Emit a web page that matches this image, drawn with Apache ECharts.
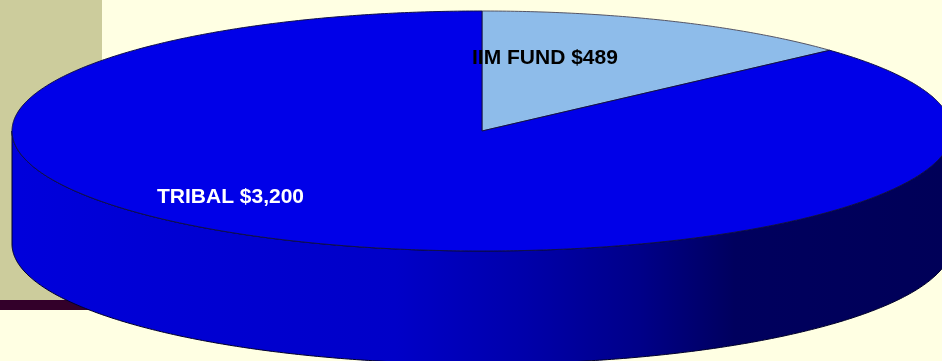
<!DOCTYPE html>
<html>
<head>
<meta charset="utf-8">
<script src="https://cdn.jsdelivr.net/npm/echarts@6/dist/echarts.min.js"></script>
<style>
html,body{margin:0;padding:0;background:#FFFFE3;}
#chart{width:942px;height:361px;}
</style>
</head>
<body>
<div id="chart"></div>
<script>
// ---- data ----
const categories = ['IIM FUND', 'TRIBAL'];
const values = [489, 3200];

// ---- layout / style ----
const CX = 482, CY = 131, RX = 470, RY = 120, DEPTH = 113;
const topColors = ['#8EBCEA', '#0000E8'];
const labelColors = ['#000000', '#FFFFFF'];
const labelPos = [[472, 58], [157, 197]];

const total = values.reduce((a, b) => a + b, 0);
const starts = [];
let acc = 0;
values.forEach(v => { starts.push(acc / total * Math.PI * 2); acc += v; });

function pt(theta, dy) {
  return [CX + RX * Math.sin(theta), CY - RY * Math.cos(theta) + dy];
}
function arc(a, b, dy) {
  const pts = [];
  const n = Math.max(2, Math.ceil(Math.abs(b - a) / (Math.PI / 360)));
  for (let i = 0; i <= n; i++) pts.push(pt(a + (b - a) * i / n, dy));
  return pts;
}

const sideGradient = {
  type: 'linear', x: 0, y: 0, x2: 942, y2: 0, global: true,
  colorStops: [
    { offset: 0.0, color: '#0000DC' },
    { offset: 0.42, color: '#0000C8' },
    { offset: 0.55, color: '#0000AC' },
    { offset: 0.68, color: '#000088' },
    { offset: 0.78, color: '#00005E' },
    { offset: 1.0, color: '#000058' }
  ]
};

const chart = echarts.init(document.getElementById('chart'), null, { renderer: 'canvas' });
chart.setOption({
  backgroundColor: '#FFFFE3',
  animation: false,
  graphic: [
    { type: 'rect', z: 0, shape: { x: 0, y: 0, width: 102, height: 300 }, style: { fill: '#CCCC9C' } },
    { type: 'rect', z: 0, shape: { x: 0, y: 300, width: 330, height: 10 }, style: { fill: '#33002A' } }
  ],
  series: [{
    type: 'custom',
    coordinateSystem: 'none',
    data: values.map((v, i) => ({ name: categories[i], value: [i, v] })),
    renderItem: function (params, api) {
      const i = params.dataIndex;
      const a = starts[i];
      const b = a + values[i] / total * Math.PI * 2;
      const children = [];
      // side wall (front visible half: PI/2 .. 3PI/2)
      const sa = Math.max(a, Math.PI / 2), sb = Math.min(b, Math.PI * 1.5);
      if (sb > sa) {
        const pts = arc(sa, sb, 0).concat(arc(sb, sa, DEPTH));
        children.push({
          type: 'polygon', z2: 1,
          shape: { points: pts },
          style: { fill: sideGradient, stroke: '#00002A', lineWidth: 1 }
        });
      }
      // top face
      const topPts = [[CX, CY]].concat(arc(a, b, 0));
      children.push({
        type: 'polygon', z2: 2,
        shape: { points: topPts },
        style: { fill: topColors[i], stroke: i === 0 ? '#555566' : '#10104A', lineWidth: 1 }
      });
      // label
      children.push({
        type: 'text', z2: 10,
        x: labelPos[i][0], y: labelPos[i][1],
        style: {
          text: categories[i] + ' $' + values[i].toLocaleString('en-US'),
          fill: labelColors[i],
          font: 'bold 21px "Liberation Sans", Arial, sans-serif',
          align: 'left', verticalAlign: 'middle'
        }
      });
      return { type: 'group', children: children };
    }
  }]
});
</script>
</body>
</html>
